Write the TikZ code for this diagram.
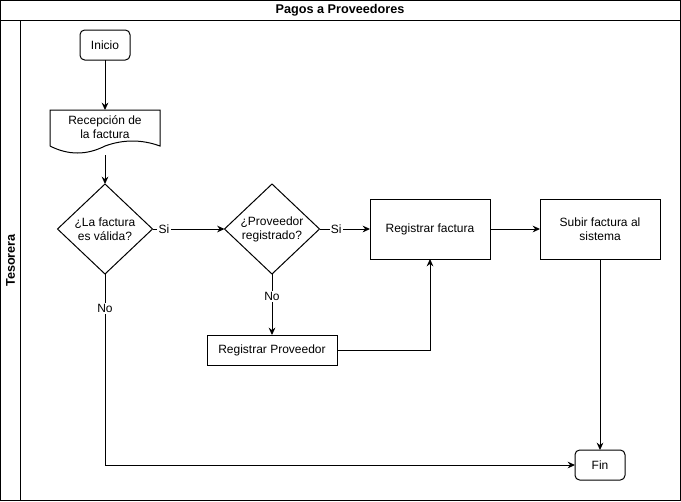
\documentclass[tikz,border=0pt]{standalone}
\usepackage{fontspec}
\setmainfont{Liberation Sans}
\usetikzlibrary{shapes.geometric,arrows.meta}

\begin{document}
\begin{tikzpicture}[x=0.75pt,y=-0.75pt,line width=0.75pt,
    font=\fontsize{9}{10.5}\selectfont,
    >={Stealth[length=5.5pt,width=5pt]}]

        \useasboundingbox (0,0) rectangle (681,501);

        % pool and lane
        \draw (0.5,0.5) rectangle (680.5,500.5);
        \draw (0.5,20.5) -- (680.5,20.5);
        \draw (20.5,20.5) -- (20.5,500.5);
        \node[font=\fontsize{9.5}{11}\selectfont\bfseries] (pool) at (340,10.5) {Pagos a Proveedores};
        \node[font=\fontsize{9.5}{11}\selectfont\bfseries,rotate=90] (lane) at (10.5,260.5) {Tesorera};

        \begin{scope}[every node/.style={draw,outer sep=0pt,align=center}]
          \node[rounded corners=3.5pt,minimum width=37.5pt,minimum height=22.5pt] (inicio) at (105,45) {Inicio};
          \node[rounded corners=3.5pt,minimum width=37.5pt,minimum height=22.5pt] (fin) at (600,465) {Fin};
          \node[minimum width=90pt,minimum height=45pt] (regfact) at (430,229) {Registrar factura};
          \node[minimum width=90pt,minimum height=45pt] (subir) at (600,229) {Subir factura al\\sistema};
          \node[minimum width=97.5pt,minimum height=22.5pt] (regprov) at (272,350) {Registrar Proveedor};
          \node[diamond,inner sep=0pt,minimum width=71.25pt,minimum height=67.5pt] (valida) at (105,229) {¿La factura\\es válida?};
          \node[diamond,inner sep=0pt,minimum width=71.25pt,minimum height=67.5pt] (registrado) at (272,229) {¿Proveedor\\registrado?};
        \end{scope}

        % document shape
        \node[minimum width=82.5pt,minimum height=33.75pt,outer sep=0pt] (recep) at (105,132.5) {};
        \node[align=center] (recep-text) at (105,127) {Recepción de\\la factura};
        \draw (50,146) -- (50,110) -- (160,110) -- (160,146)
          .. controls (141.67,139.33) and (123.33,139.33) .. (105,146)
          .. controls (86.67,155.33) and (68.33,155.33) .. (50,146);

        \begin{scope}[every node/.style={fill=white,inner sep=1pt}]

          \begin{scope}[every edge/.style={draw,->}]
            \path (inicio) edge (recep);
            \path (recep) edge (valida);
            \path (valida) edge node[pos=.16] {Si} (registrado);
            \path (registrado) edge node[pos=.33] {Si} (regfact);
            \path (registrado) edge node[pos=.37] {No} (regprov);
            \path (regfact) edge (subir);
            \path (subir) edge (fin);
          \end{scope}

          \draw[->] (regprov) -| (regfact);
          \draw[->] (valida) |- node[pos=.09] {No} (fin);
        \end{scope}

      \end{tikzpicture}
\end{document}
